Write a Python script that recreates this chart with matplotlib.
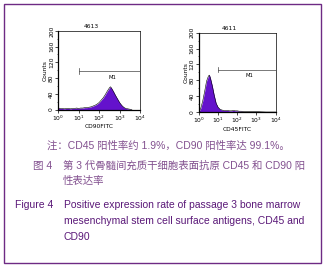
"""Flow cytometry histograms for CD90 / CD45 with a bilingual caption."""

import matplotlib

matplotlib.use("Agg")

import matplotlib.pyplot as plt
import numpy as np
from matplotlib.patches import Rectangle
from matplotlib.ticker import LogLocator, MultipleLocator

# CD90 panel (left): log10 fluorescence vs counts
cd90_log = [0.00, 0.10, 0.20, 0.30, 0.40, 0.50, 0.60, 0.70, 0.80, 0.90,
            1.00, 1.10, 1.20, 1.30, 1.40, 1.50, 1.60, 1.70, 1.80, 1.90,
            2.00, 2.10, 2.20, 2.30, 2.40, 2.50, 2.55, 2.60, 2.70, 2.80,
            2.90, 3.00, 3.10, 3.20, 3.30, 3.40, 3.50, 3.60]
cd90_counts = [4, 3, 3, 2, 3, 3, 2, 3, 3, 4,
               3, 4, 4, 5, 5, 6, 7, 9, 11, 14,
               18, 24, 30, 38, 47, 55, 58, 55, 46, 36,
               27, 18, 11, 6, 3, 2, 1, 0]

# CD45 panel (right)
cd45_log = [0.00, 0.05, 0.10, 0.20, 0.30, 0.40, 0.50, 0.55, 0.60, 0.70,
            0.80, 0.90, 1.00, 1.10, 1.20, 1.30, 1.40, 1.50, 1.60, 1.70,
            1.80, 1.90, 2.00, 2.10, 2.20, 2.40, 2.60, 3.00, 3.50, 4.00]
cd45_counts = [6, 4, 10, 28, 52, 78, 91, 93, 86, 66,
               42, 22, 12, 7, 5, 4, 4, 4, 3, 3,
               4, 3, 3, 2, 2, 1, 1, 1, 0, 0]

panel_titles = ["4613", "4611"]
panel_xlabels = ["CD90FITC", "CD45FITC"]
gate_start = [1.0, 1.0]
gate_level = [98, 107]
y_ticks = [0, 40, 80, 120, 160, 200]

note_text = "注：CD45 阳性率约 1.9%，CD90 阳性率达 99.1%。"
cn_label = "图 4"
cn_lines = ["第 3 代骨髓间充质干细胞表面抗原 CD45 和 CD90 阳", "性表达率"]
en_label = "Figure 4"
en_lines = ["Positive expression rate of passage 3 bone marrow",
            "mesenchymal stem cell surface antigens, CD45 and",
            "CD90"]

FILL = "#6412cc"
PURPLE_DARK = "#5a1878"
PURPLE_LIGHT = "#82508f"
BORDER = "#6e2a84"
FONT = ["Liberation Sans", "Noto Sans CJK SC", "DejaVu Sans"]

fig = plt.figure(figsize=(3.25, 2.68), dpi=100)

axes_boxes = [[0.179, 0.591, 0.252, 0.294], [0.612, 0.582, 0.236, 0.296]]
series = [(cd90_log, cd90_counts), (cd45_log, cd45_counts)]

for i, box in enumerate(axes_boxes):
    ax = fig.add_axes(box)
    logs, counts = series[i]
    x = 10 ** np.array(logs)
    ax.fill_between(x, 0, counts, color=FILL, lw=0)
    ax.plot(x, counts, color="black", lw=0.4)
    ax.set_xscale("log")
    ax.set_xlim(1, 1e4)
    ax.set_ylim(0, 200)
    ax.set_yticks(y_ticks)
    ax.yaxis.set_minor_locator(MultipleLocator(20))
    ax.xaxis.set_major_locator(LogLocator(base=10, numticks=6))
    ax.tick_params(labelsize=4.3, length=2, width=0.5, pad=1)
    ax.tick_params(which="minor", length=1, width=0.4)
    for lab in ax.get_yticklabels():
        lab.set_rotation(90)
        lab.set_va("center")
    for side, sp in ax.spines.items():
        sp.set_linewidth(0.9 if side in ("left", "bottom") else 0.5)
    ax.set_xlabel(panel_xlabels[i], fontsize=4.3, labelpad=1)
    ax.set_ylabel("Counts", fontsize=4.3, labelpad=1)
    ax.set_title(panel_titles[i], fontsize=4.3, x=0.4, pad=2)

    # M1 gate marker
    g0 = 10 ** gate_start[i]
    ax.plot([g0, 1e4], [gate_level[i]] * 2, color="#444444", lw=0.5)
    ax.plot([g0, g0], [gate_level[i] - 7, gate_level[i] + 7], color="#444444", lw=0.5)
    ax.text(10 ** 2.66, gate_level[i] - 16, "M1", fontsize=3.8, ha="center", va="center")

# caption
fig.text(47 / 325, 0.444, note_text, fontsize=7.5, color=PURPLE_LIGHT,
         family=FONT, ha="left", va="baseline")
fig.text(33 / 325, 0.369, cn_label, fontsize=7.6, color=PURPLE_LIGHT,
         family=FONT, ha="left", va="baseline")
for txt, yb in zip(cn_lines, [0.369, 0.312]):
    fig.text(63 / 325, yb, txt, fontsize=7.5, color=PURPLE_LIGHT,
             family=FONT, ha="left", va="baseline")
fig.text(15 / 325, 0.225, en_label, fontsize=7.5, color=PURPLE_DARK,
         family=FONT, ha="left", va="baseline")
for txt, yb in zip(en_lines, [0.225, 0.165, 0.104]):
    fig.text(64 / 325, yb, txt, fontsize=7.5, color=PURPLE_DARK,
             family=FONT, ha="left", va="baseline")

# outer frame
fig.patches.append(Rectangle((0.0123, 0.0187), 0.9757, 0.9663, fill=False,
                             edgecolor=BORDER, lw=1.0, transform=fig.transFigure))

fig.savefig("out.png", dpi=100)
